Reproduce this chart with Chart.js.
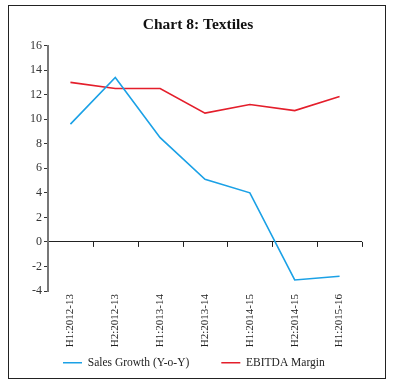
<!DOCTYPE html>
<html>
<head>
<meta charset="utf-8">
<script src="https://cdn.jsdelivr.net/npm/chart.js@4"></script>
<style>
  body { margin: 0; background: #fff; }
  #wrap { position: relative; width: 396px; height: 387px; }
  #frame { position: absolute; left: 8px; top: 5px; width: 376px; height: 372px; border: 1px solid #222; }
  #c { position: absolute; left: 0; top: 0; }
</style>
</head>
<body>
<div id="wrap">
  <div id="frame"></div>
  <canvas id="c" width="396" height="387"></canvas>
</div>
<script>
// Datos del gráfico
const periods = ["H1:2012-13", "H2:2012-13", "H1:2013-14", "H2:2013-14", "H1:2014-15", "H2:2014-15", "H1:2015-16"];
const salesGrowth = [9.6, 13.4, 8.5, 5.1, 4.0, -3.1, -2.8];
const ebitdaMargin = [13.0, 12.5, 12.5, 10.5, 11.2, 10.7, 11.85];
const yTicks = [-4, -2, 0, 2, 4, 6, 8, 10, 12, 14, 16];

const serif = "'Liberation Serif', 'DejaVu Serif', serif";

// marcas bajo la línea de cero, en los límites de cada categoría
const zeroTicks = {
  id: "zeroTicks",
  afterLayout(chart) {
    // leyenda alineada a la izquierda como en el original
    chart.legend.left = 31;
  },
  afterDatasetsDraw(chart) {
    const x = chart.scales.x, y = chart.scales.y;
    const y0 = y.getPixelForValue(0);
    const step = (x.right - x.left) / periods.length;
    const ctx = chart.ctx;
    ctx.save();
    ctx.strokeStyle = "#222";
    ctx.lineWidth = 1;
    for (let i = 1; i <= periods.length; i++) {
      const px = Math.round(x.left + i * step) + 0.5;
      ctx.beginPath();
      ctx.moveTo(px, y0);
      ctx.lineTo(px, y0 + 5);
      ctx.stroke();
    }
    ctx.restore();
  }
};

new Chart(document.getElementById("c").getContext("2d"), {
  type: "line",
  data: {
    labels: periods,
    datasets: [
      {
        label: "Sales Growth (Y-o-Y)",
        data: salesGrowth,
        borderColor: "#1ba1e6",
        backgroundColor: "#1ba1e6",
        borderWidth: 1.6,
        pointRadius: 0,
        tension: 0,
      },
      {
        label: "EBITDA Margin",
        data: ebitdaMargin,
        borderColor: "#e41e2b",
        backgroundColor: "#e41e2b",
        borderWidth: 1.6,
        pointRadius: 0,
        tension: 0,
      },
    ],
  },
  options: {
    responsive: false,
    animation: false,
    layout: { padding: { left: 0, right: 0, top: 0, bottom: 12 } },
    plugins: {
      title: {
        display: true,
        text: "Chart 8: Textiles",
        color: "#111",
        font: { family: serif, size: 15.5, weight: "bold" },
        padding: { top: 16, bottom: 11 },
      },
      legend: {
        position: "bottom",
        align: "start",
        maxHeight: 50,
        labels: {
          boxWidth: 19,
          boxHeight: 0,
          padding: 32,
          color: "#222",
          font: { family: serif, size: 11.5 },
        },
      },
      tooltip: { enabled: false },
    },
    scales: {
      x: {
        offset: true,
        grid: { display: false },
        border: { display: false },
        ticks: {
          minRotation: 90,
          maxRotation: 90,
          autoSkip: false,
          padding: -5,
          color: "#222",
          font: { family: serif, size: 11 },
        },
        afterFit(scale) { scale.height = 34; },
        // las etiquetas giradas se salen de la caja del eje: no recortar
        afterUpdate(scale) { scale._computeLabelArea = () => undefined; },
      },
      y: {
        min: -4,
        max: 16,
        afterBuildTicks(scale) { scale.ticks = yTicks.map(v => ({ value: v })); },
        grid: {
          drawOnChartArea: true,
          color: (c) => (c.tick && c.tick.value === 0 ? "#222" : "rgba(0,0,0,0)"),
          tickColor: "#333",
          tickLength: 4,
        },
        border: { color: "#777", width: 2 },
        ticks: {
          padding: 2,
          color: "#333",
          font: { family: serif, size: 12 },
        },
        afterFit(scale) { scale.width = 48; },
      },
      // eje vacío a la derecha, solo reserva espacio
      yRight: {
        position: "right",
        display: true,
        grid: { display: false },
        border: { display: false },
        ticks: { display: false },
        afterFit(scale) { scale.width = 34; },
      },
    },
  },
  plugins: [zeroTicks],
});
</script>
</body>
</html>
